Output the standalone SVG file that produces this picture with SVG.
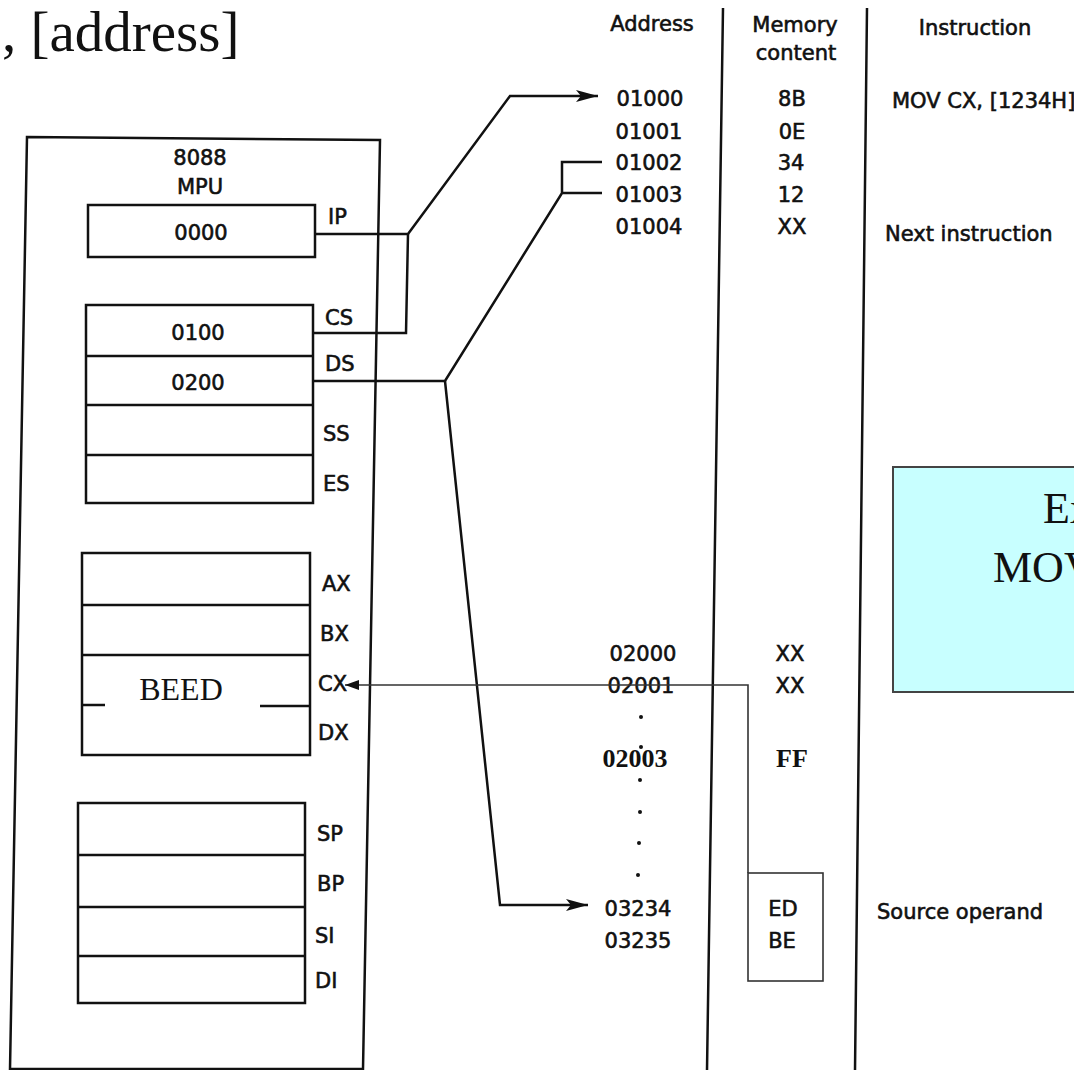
<svg xmlns="http://www.w3.org/2000/svg" width="1074" height="1070" viewBox="0 0 1074 1070">
<style>
.s{font-family:"DejaVu Sans","Liberation Sans",sans-serif;font-size:21px;fill:#111;stroke:#111;stroke-width:0.6}
.m{text-anchor:middle}
.ln{fill:none;stroke:#111;stroke-width:2.5;stroke-linejoin:miter}
.th{fill:none;stroke:#333;stroke-width:1.6}
.bx{fill:#fff;stroke:#111;stroke-width:2.5}
.serif{font-family:"Liberation Serif","Times New Roman",serif;fill:#111}
.dot{fill:#111}
</style>
<defs>
<marker id="arr" markerUnits="userSpaceOnUse" viewBox="0 0 22 12" refX="22" refY="6" markerWidth="22" markerHeight="12" orient="auto">
<path d="M0,0 L22,6 L0,12 L5,6 z" fill="#111"/>
</marker>
<marker id="arrs" markerUnits="userSpaceOnUse" viewBox="0 0 14 10" refX="14" refY="5" markerWidth="14" markerHeight="10" orient="auto">
<path d="M0,0 L14,5 L0,10 z" fill="#111"/>
</marker>
</defs>
<rect width="1074" height="1070" fill="#fff"/>

<g id="title">
<text class="serif" x="2" y="51" font-size="57">, [address]</text>
</g>

<g id="mpu">
<polygon class="bx" points="27,137 380,140 363,1069 10,1069"/>
<text class="s m" x="200" y="165">8088</text>
<text class="s m" x="200" y="194">MPU</text>
</g>

<g id="reg-ip">
<rect class="bx" x="88" y="205" width="227" height="52"/>
<text class="s m" x="201" y="240">0000</text>
<text class="s" x="328" y="224">IP</text>
</g>

<g id="reg-seg">
<rect class="bx" x="86" y="305" width="227" height="198"/>
<path class="ln" d="M86,356 H313 M86,405 H313 M86,455 H313"/>
<text class="s m" x="198" y="340">0100</text>
<text class="s m" x="198" y="390">0200</text>
<text class="s" x="325" y="325">CS</text>
<text class="s" x="325" y="371">DS</text>
<text class="s" x="323" y="441">SS</text>
<text class="s" x="323" y="491">ES</text>
</g>

<g id="reg-gen">
<rect class="bx" x="82" y="553" width="228" height="202"/>
<path class="ln" d="M82,605 H310 M82,655 H310 M82,705 H105 M260,706 H310"/>
<text class="serif m" x="181" y="700" font-size="32">BEED</text>
<text class="s" x="322" y="591">AX</text>
<text class="s" x="320" y="641">BX</text>
<text class="s" x="318" y="691">CX</text>
<text class="s" x="318" y="740">DX</text>
</g>

<g id="reg-ptr">
<rect class="bx" x="78" y="803" width="227" height="200"/>
<path class="ln" d="M78,855 H305 M78,907 H305 M78,956 H305"/>
<text class="s" x="317" y="841">SP</text>
<text class="s" x="317" y="891">BP</text>
<text class="s" x="315" y="943">SI</text>
<text class="s" x="315" y="988">DI</text>
</g>

<g id="memory-table">
<path class="ln" d="M723,8 L707,1070 M867,8 L855,1070"/>
<text class="s m" x="652" y="31">Address</text>
<text class="s m" x="795" y="32">Memory</text>
<text class="s m" x="796" y="60">content</text>
<text class="s m" x="975" y="35">Instruction</text>

<text class="s m" x="650" y="106">01000</text>
<text class="s m" x="649" y="139">01001</text>
<text class="s m" x="649" y="170">01002</text>
<text class="s m" x="649" y="202">01003</text>
<text class="s m" x="649" y="234">01004</text>
<text class="s m" x="792" y="106">8B</text>
<text class="s m" x="792" y="139">0E</text>
<text class="s m" x="791" y="170">34</text>
<text class="s m" x="791" y="202">12</text>
<text class="s m" x="792" y="234">XX</text>
<text class="s" x="892" y="108" font-size="18">MOV CX, [1234H]</text>
<text class="s" x="885" y="241">Next instruction</text>

<text class="s m" x="643" y="661">02000</text>
<text class="s m" x="641" y="693">02001</text>
<text class="s m" x="790" y="661">XX</text>
<text class="s m" x="790" y="693">XX</text>
<text class="serif m" x="635" y="767" font-size="26" font-weight="bold">02003</text>
<text class="serif m" x="792" y="767" font-size="26" font-weight="bold">FF</text>
<circle class="dot" cx="641" cy="717" r="2"/>
<circle class="dot" cx="641" cy="747" r="2"/>
<circle class="dot" cx="640" cy="780" r="2"/>
<circle class="dot" cx="640" cy="812" r="2"/>
<circle class="dot" cx="639" cy="843" r="2"/>
<circle class="dot" cx="638" cy="875" r="2"/>
<text class="s m" x="638" y="916">03234</text>
<text class="s m" x="638" y="948">03235</text>
<text class="s" x="877" y="919" font-size="20">Source operand</text>
</g>

<g id="operand-box">
<rect class="th" x="748" y="873" width="75" height="108"/>
<text class="s m" x="783" y="916">ED</text>
<text class="s m" x="782" y="948">BE</text>
</g>

<g id="example-box">
<rect x="893" y="467" width="200" height="225" fill="#c8ffff" stroke="#444" stroke-width="2"/>
<text class="serif" x="1043" y="523" font-size="44">Ex</text>
<text class="serif" x="993" y="582" font-size="44">MOV</text>
</g>

<g id="connectors">
<path class="ln" d="M315,234 H408 L510,96 H598" marker-end="url(#arr)"/>
<path class="ln" d="M408,234 L406,333 H313"/>
<path class="ln" d="M313,381 H445 L562,193 H602 M562,193 V162 H602"/>
<path class="ln" d="M445,381 L500,905 H588" marker-end="url(#arr)"/>
<path class="th" d="M748,873 V685 H345" marker-end="url(#arrs)"/>
</g>
</svg>
